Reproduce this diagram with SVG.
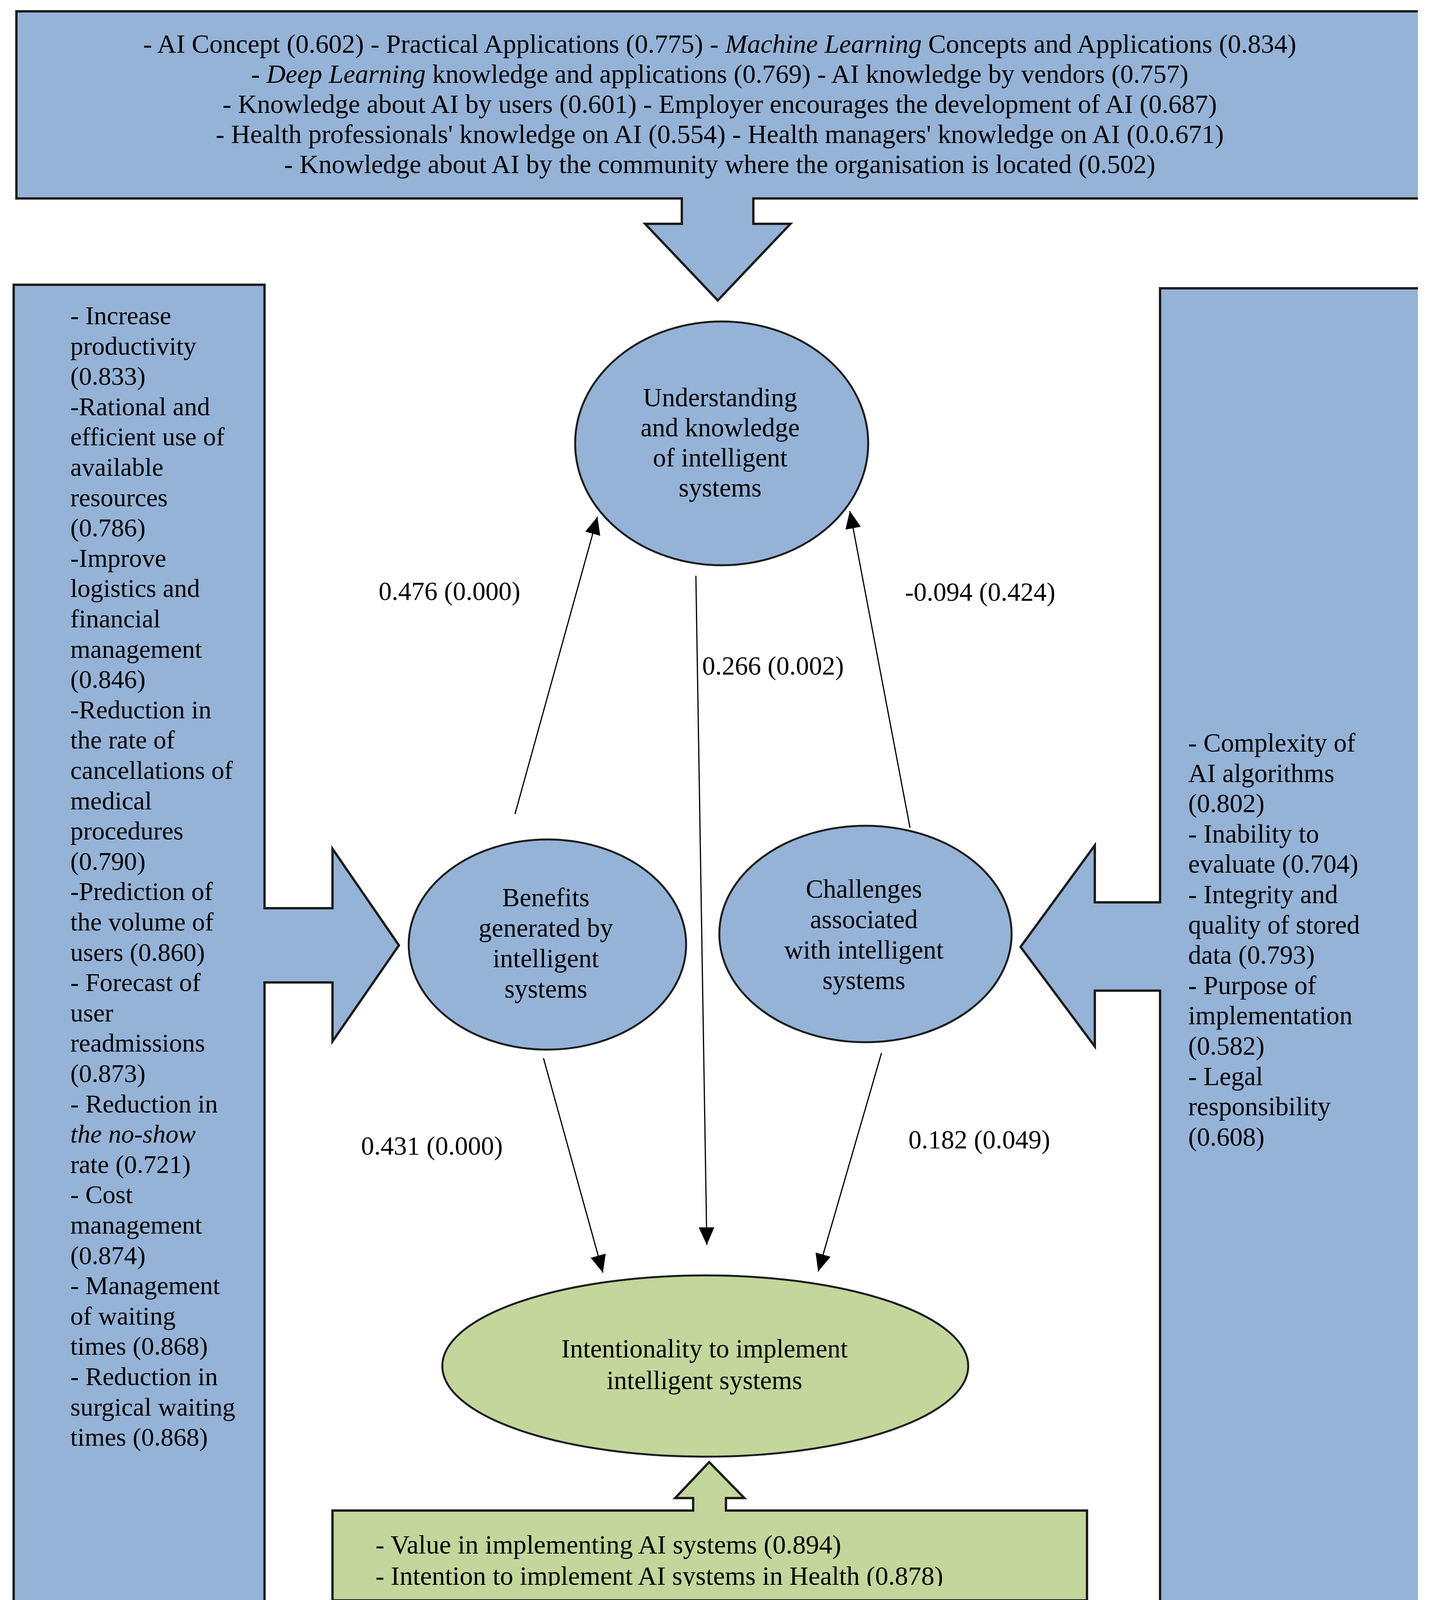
<svg xmlns="http://www.w3.org/2000/svg" width="3688" height="4161" viewBox="0 0 3688 4161">
<style>
text{font-family:"Liberation Serif","Times New Roman",serif;fill:#000;}
.t{font-size:67px;}
.side{font-size:66px;}
.sideR{font-size:67px;}
.lbl{font-size:67px;}
.blue{fill:#95b3d7;}
.green{fill:#c3d69b;}
.edge{fill:none;stroke:#1c1c1c;stroke-width:6;stroke-linejoin:miter;}
.ell{stroke:#1c1c1c;stroke-width:5;}
.conn{stroke:#000;stroke-width:3;fill:none;}
</style>
<defs>
<marker id="ah" viewBox="0 0 10 10" refX="10" refY="5" markerWidth="45" markerHeight="40" markerUnits="userSpaceOnUse" orient="auto" preserveAspectRatio="none"><path d="M0,0 L10,5 L0,10 Z" fill="#000"/></marker>
<clipPath id="clipB"><rect x="851" y="3867" width="1931" height="193"/></clipPath>
</defs>
<rect width="3688" height="4161" fill="#fff"/>

<g id="top-box">
<path class="blue" d="M42,29 H3629 V508 H1928 V573 H2023 L1837,769 L1651,573 H1745 V508 H42 Z"/>
<path class="edge" d="M3629,29 H42 V508 H1745 V573 H1651 L1837,769 L2023,573 H1928 V508 H3629"/>
<text class="t" text-anchor="middle" x="1842" y="135" textLength="2951" lengthAdjust="spacingAndGlyphs">- AI Concept (0.602) - Practical Applications (0.775) - <tspan font-style="italic">Machine Learning</tspan> Concepts and Applications (0.834)</text>
<text class="t" text-anchor="middle" x="1842" y="212" textLength="2399" lengthAdjust="spacingAndGlyphs">- <tspan font-style="italic">Deep Learning</tspan> knowledge and applications (0.769) - AI knowledge by vendors (0.757)</text>
<text class="t" text-anchor="middle" x="1842" y="289" textLength="2545" lengthAdjust="spacingAndGlyphs">- Knowledge about AI by users (0.601) - Employer encourages the development of AI (0.687)</text>
<text class="t" text-anchor="middle" x="1842" y="366" textLength="2580" lengthAdjust="spacingAndGlyphs">- Health professionals' knowledge on AI (0.554) - Health managers' knowledge on AI (0.0.671)</text>
<text class="t" text-anchor="middle" x="1842" y="443" textLength="2230" lengthAdjust="spacingAndGlyphs">- Knowledge about AI by the community where the organisation is located (0.502)</text>
</g>

<g id="left-box">
<path class="blue" d="M35,729 H677 V2325 H851 V2173 L1021,2420 L851,2666 V2515 H677 V4108 H35 Z"/>
<path class="edge" d="M35,729 H677 V2325 H851 V2173 L1021,2420 L851,2666 V2515 H677 V4108 H35 Z"/>
<text class="side" x="180" y="830">
<tspan x="180" dy="0">- Increase</tspan>
<tspan x="180" dy="77.6">productivity</tspan>
<tspan x="180" dy="77.6">(0.833)</tspan>
<tspan x="180" dy="77.6">-Rational and</tspan>
<tspan x="180" dy="77.6">efficient use of</tspan>
<tspan x="180" dy="77.6">available</tspan>
<tspan x="180" dy="77.6">resources</tspan>
<tspan x="180" dy="77.6">(0.786)</tspan>
<tspan x="180" dy="77.6">-Improve</tspan>
<tspan x="180" dy="77.6">logistics and</tspan>
<tspan x="180" dy="77.6">financial</tspan>
<tspan x="180" dy="77.6">management</tspan>
<tspan x="180" dy="77.6">(0.846)</tspan>
<tspan x="180" dy="77.6">-Reduction in</tspan>
<tspan x="180" dy="77.6">the rate of</tspan>
<tspan x="180" dy="77.6">cancellations of</tspan>
<tspan x="180" dy="77.6">medical</tspan>
<tspan x="180" dy="77.6">procedures</tspan>
<tspan x="180" dy="77.6">(0.790)</tspan>
<tspan x="180" dy="77.6">-Prediction of</tspan>
<tspan x="180" dy="77.6">the volume of</tspan>
<tspan x="180" dy="77.6">users (0.860)</tspan>
<tspan x="180" dy="77.6">- Forecast of</tspan>
<tspan x="180" dy="77.6">user</tspan>
<tspan x="180" dy="77.6">readmissions</tspan>
<tspan x="180" dy="77.6">(0.873)</tspan>
<tspan x="180" dy="77.6">- Reduction in</tspan>
<tspan x="180" dy="77.6" font-style="italic">the no-show</tspan>
<tspan x="180" dy="77.6">rate (0.721)</tspan>
<tspan x="180" dy="77.6">- Cost</tspan>
<tspan x="180" dy="77.6">management</tspan>
<tspan x="180" dy="77.6">(0.874)</tspan>
<tspan x="180" dy="77.6">- Management</tspan>
<tspan x="180" dy="77.6">of waiting</tspan>
<tspan x="180" dy="77.6">times (0.868)</tspan>
<tspan x="180" dy="77.6">- Reduction in</tspan>
<tspan x="180" dy="77.6">surgical waiting</tspan>
<tspan x="180" dy="77.6">times (0.868)</tspan>
</text>
</g>

<g id="right-box">
<path class="blue" d="M3629,738 H2969 V2310 H2802 V2164 L2612,2424 L2802,2679 V2536 H2969 V4105 H3629 Z"/>
<path class="edge" d="M3629,738 H2969 V2310 H2802 V2164 L2612,2424 L2802,2679 V2536 H2969 V4105 H3629"/>
<text class="sideR" x="3041" y="1924">
<tspan x="3041" dy="0">- Complexity of</tspan>
<tspan x="3041" dy="77.6">AI algorithms</tspan>
<tspan x="3041" dy="77.6">(0.802)</tspan>
<tspan x="3041" dy="77.6">- Inability to</tspan>
<tspan x="3041" dy="77.6">evaluate (0.704)</tspan>
<tspan x="3041" dy="77.6">- Integrity and</tspan>
<tspan x="3041" dy="77.6">quality of stored</tspan>
<tspan x="3041" dy="77.6">data (0.793)</tspan>
<tspan x="3041" dy="77.6">- Purpose of</tspan>
<tspan x="3041" dy="77.6">implementation</tspan>
<tspan x="3041" dy="77.6">(0.582)</tspan>
<tspan x="3041" dy="77.6">- Legal</tspan>
<tspan x="3041" dy="77.6">responsibility</tspan>
<tspan x="3041" dy="77.6">(0.608)</tspan>
</text>
</g>

<g id="bottom-box">
<path class="green" d="M851,3867 H1774 V3835 H1728 L1815,3743 L1905,3835 H1858 V3867 H2782 V4097 H851 Z"/>
<path class="edge" d="M851,3867 H1774 V3835 H1728 L1815,3743 L1905,3835 H1858 V3867 H2782 V4097 H851 Z"/>
<g clip-path="url(#clipB)">
<text class="t" x="961" y="3977" textLength="1192" lengthAdjust="spacingAndGlyphs">- Value in implementing AI systems (0.894)</text>
<text class="t" x="961" y="4057" textLength="1453" lengthAdjust="spacingAndGlyphs">- Intention to implement AI systems in Health (0.878)</text>
</g>
</g>

<g id="node-understanding">
<ellipse class="blue ell" cx="1847" cy="1135" rx="375" ry="312"/>
<text class="t" text-anchor="middle" x="1843" y="1040">Understanding</text>
<text class="t" text-anchor="middle" x="1843" y="1117">and knowledge</text>
<text class="t" text-anchor="middle" x="1843" y="1194">of intelligent</text>
<text class="t" text-anchor="middle" x="1843" y="1271">systems</text>
</g>

<g id="node-benefits">
<ellipse class="blue ell" cx="1401" cy="2418" rx="355" ry="269"/>
<text class="t" text-anchor="middle" x="1397" y="2320">Benefits</text>
<text class="t" text-anchor="middle" x="1397" y="2398">generated by</text>
<text class="t" text-anchor="middle" x="1397" y="2476">intelligent</text>
<text class="t" text-anchor="middle" x="1397" y="2554">systems</text>
</g>

<g id="node-challenges">
<ellipse class="blue ell" cx="2215" cy="2391" rx="374" ry="277"/>
<text class="t" text-anchor="middle" x="2211" y="2298">Challenges</text>
<text class="t" text-anchor="middle" x="2211" y="2376">associated</text>
<text class="t" text-anchor="middle" x="2211" y="2454">with intelligent</text>
<text class="t" text-anchor="middle" x="2211" y="2532">systems</text>
</g>

<g id="node-intentionality">
<ellipse class="green ell" cx="1805" cy="3497" rx="673" ry="232"/>
<text class="t" text-anchor="middle" x="1803" y="3475">Intentionality to implement</text>
<text class="t" text-anchor="middle" x="1803" y="3556">intelligent systems</text>
</g>

<g id="connectors">
<line class="conn" x1="1318" y1="2084" x2="1529" y2="1323" marker-end="url(#ah)"/>
<line class="conn" x1="2329" y1="2119" x2="2175" y2="1308" marker-end="url(#ah)"/>
<line class="conn" x1="1781" y1="1474" x2="1809" y2="3187" marker-end="url(#ah)"/>
<line class="conn" x1="1391" y1="2709" x2="1543" y2="3258" marker-end="url(#ah)"/>
<line class="conn" x1="2256" y1="2696" x2="2094" y2="3255" marker-end="url(#ah)"/>
<text class="lbl" x="969" y="1536">0.476 (0.000)</text>
<text class="lbl" x="2316" y="1538">-0.094 (0.424)</text>
<text class="lbl" x="1797" y="1727">0.266 (0.002)</text>
<text class="lbl" x="924" y="2956">0.431 (0.000)</text>
<text class="lbl" x="2325" y="2940">0.182 (0.049)</text>
</g>
</svg>
